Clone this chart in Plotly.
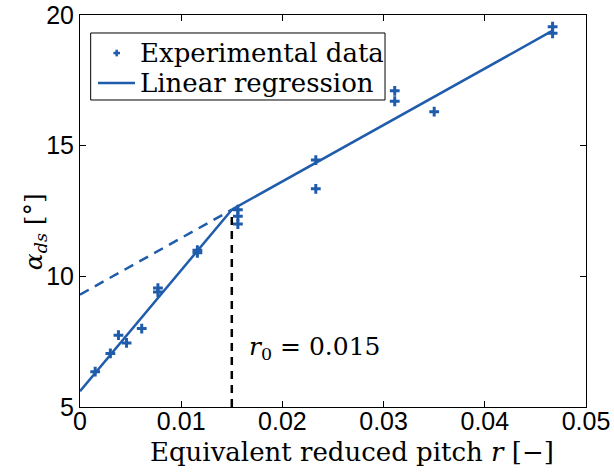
import plotly.graph_objects as go

# Experimental data
r_exp = [0.0015, 0.0030, 0.0038, 0.0046, 0.0061, 0.0077, 0.0077, 0.0116, 0.0116,
         0.0156, 0.0156, 0.0156, 0.0233, 0.0233, 0.0311, 0.0311, 0.0350, 0.0467, 0.0467]
alpha_exp = [6.35, 7.05, 7.75, 7.45, 8.0, 9.55, 9.4, 11.0, 10.9,
             12.55, 12.3, 12.0, 14.45, 13.35, 17.1, 16.7, 16.3, 19.55, 19.3]

# Regression segments
r0 = 0.015
fit1_r = [0.0, r0]
fit1_a = [5.6, 12.55]
fit2_r = [r0, 0.0467]
fit2_a = [12.55, 19.4]
ext_r = [0.0, r0]
ext_a = [9.3, 12.55]
vline_r = [r0, r0]
vline_a = [5.0, 12.55]

x_ticks = [0, 0.01, 0.02, 0.03, 0.04, 0.05]
x_ticklabels = ["0", "0.01", "0.02", "0.03", "0.04", "0.05"]
y_ticks = [5, 10, 15, 20]
legend_labels = ["Experimental data", "Linear regression"]

blue = "#1f5cab"
serif = "DejaVu Serif"
sans = "Liberation Sans"

fig = go.Figure()
fig.add_trace(go.Scatter(x=vline_r, y=vline_a, mode="lines",
                         line=dict(color="black", width=2.5, dash="8px,6px"),
                         showlegend=False, hoverinfo="skip"))
fig.add_trace(go.Scatter(x=ext_r, y=ext_a, mode="lines",
                         line=dict(color=blue, width=2.5, dash="10px,7px"),
                         showlegend=False, hoverinfo="skip"))
fig.add_trace(go.Scatter(x=r_exp, y=alpha_exp, mode="markers", name=legend_labels[0],
                         showlegend=False,
                         marker=dict(symbol="cross-thin", size=7, color=blue,
                                     line=dict(color=blue, width=3))))
fig.add_trace(go.Scatter(x=fit1_r, y=fit1_a, mode="lines", name=legend_labels[1],
                         showlegend=False, line=dict(color=blue, width=2.5)))
fig.add_trace(go.Scatter(x=fit2_r, y=fit2_a, mode="lines", showlegend=False,
                         line=dict(color=blue, width=2.5)))

# r0 label
fig.add_annotation(x=0.0165, y=7.26, xref="x", yref="y", xanchor="left", yanchor="middle",
                   text="<i>r</i><sub>0</sub> = 0.015", showarrow=False,
                   font=dict(family=serif, size=25, color="black"))

# Manual legend (box, symbols, text) in paper coordinates
fig.add_shape(type="rect", xref="paper", yref="paper",
              x0=0.0211, x1=0.6028, y0=0.7832, y1=0.9541,
              line=dict(color="black", width=1), fillcolor="white", layer="above")
mx, my, dx, dy = 0.0725, 0.903, 0.0065, 0.0085
fig.add_shape(type="line", xref="paper", yref="paper", x0=mx - dx, x1=mx + dx, y0=my, y1=my,
              line=dict(color=blue, width=2.5), layer="above")
fig.add_shape(type="line", xref="paper", yref="paper", x0=mx, x1=mx, y0=my - dy, y1=my + dy,
              line=dict(color=blue, width=2.5), layer="above")
fig.add_shape(type="line", xref="paper", yref="paper", x0=0.0356, x1=0.1087, y0=0.8265, y1=0.8265,
              line=dict(color=blue, width=2.5), layer="above")
for label, ly in zip(legend_labels, [0.903, 0.8265]):
    fig.add_annotation(x=0.1146, y=ly, xref="paper", yref="paper", xanchor="left",
                       yanchor="middle", text=label, showarrow=False,
                       font=dict(family=serif, size=26, color="black"))

# Axis titles as annotations
fig.add_annotation(x=0.5375, y=-0.1148, xref="paper", yref="paper", xanchor="center",
                   yanchor="middle", showarrow=False,
                   text="Equivalent reduced pitch <i>r</i> [−]",
                   font=dict(family=serif, size=26, color="black"))
fig.add_annotation(x=-0.0889, y=0.446, xref="paper", yref="paper", xanchor="center",
                   yanchor="middle", showarrow=False, textangle=-90,
                   text="<i>α<sub>ds</sub></i> [°]",
                   font=dict(family=serif, size=25, color="black"))

axis_common = dict(showline=True, linecolor="black", linewidth=1, mirror="ticks",
                   ticks="inside", ticklen=6, tickcolor="black", showgrid=False,
                   zeroline=False, automargin=False,
                   tickfont=dict(family=sans, size=25, color="black"))

fig.update_xaxes(range=[0, 0.05], tickvals=x_ticks, ticktext=x_ticklabels,
                 ticklabelstandoff=-8, **axis_common)
fig.update_yaxes(range=[5, 20], tickvals=y_ticks, **axis_common)

fig.update_layout(
    width=614, height=473,
    margin=dict(l=80, r=28, t=15, b=66),
    paper_bgcolor="white", plot_bgcolor="white",
    showlegend=False,
)

fig.write_html("out.html")
